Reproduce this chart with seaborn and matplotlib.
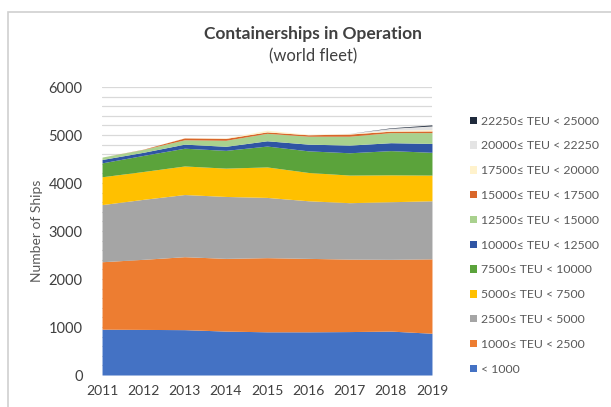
import numpy as np
import matplotlib
matplotlib.use('Agg')
import matplotlib.pyplot as plt
from matplotlib.patches import Rectangle
import seaborn as sns

years = [2011, 2012, 2013, 2014, 2015, 2016, 2017, 2018, 2019]

# number of ships per size class (layer thickness)
teu_lt_1000 = [955, 950, 945, 915, 900, 900, 905, 915, 870]
teu_1000_2500 = [1405, 1460, 1520, 1515, 1545, 1530, 1510, 1495, 1550]
teu_2500_5000 = [1190, 1250, 1295, 1290, 1255, 1200, 1175, 1200, 1210]
teu_5000_7500 = [580, 580, 595, 590, 635, 590, 575, 560, 535]
teu_7500_10000 = [290, 335, 370, 370, 435, 450, 465, 505, 475]
teu_10000_12500 = [70, 65, 85, 85, 110, 140, 160, 165, 185]
teu_12500_15000 = [50, 60, 90, 125, 155, 165, 185, 210, 225]
teu_15000_17500 = [0, 5, 40, 40, 30, 30, 45, 30, 35]
teu_17500_20000 = [0, 0, 5, 10, 35, 10, 10, 20, 30]
teu_20000_22250 = [0, 0, 0, 0, 0, 0, 5, 40, 75]
teu_22250_25000 = [0, 0, 0, 0, 0, 0, 0, 10, 20]

labels = ['< 1000', '1000≤ TEU < 2500', '2500≤ TEU < 5000', '5000≤ TEU < 7500',
          '7500≤ TEU < 10000', '10000≤ TEU < 12500', '12500≤ TEU < 15000',
          '15000≤ TEU < 17500', '17500≤ TEU < 20000', '20000≤ TEU < 22250',
          '22250≤ TEU < 25000']
series = [teu_lt_1000, teu_1000_2500, teu_2500_5000, teu_5000_7500, teu_7500_10000,
          teu_10000_12500, teu_12500_15000, teu_15000_17500, teu_17500_20000,
          teu_20000_22250, teu_22250_25000]
colors = sns.color_palette(['#4472C4', '#ED7D31', '#A5A5A5', '#FFC000', '#5BA33B',
                            '#2F55A4', '#A9D18E', '#D9662A', '#FFF2CC', '#E4E4E4',
                            '#1F2A3C'])

sns.set_theme(style='white')
plt.rcParams['font.family'] = ['Lato', 'DejaVu Sans']

fig = plt.figure(figsize=(6.11, 4.07), dpi=100)
ax = fig.add_axes([0.167, 0.0786, 0.540, 0.7076])

ax.set_yticks(np.arange(0, 6001, 200), minor=True)
ax.grid(True, which='both', axis='y', color='#D9D9D9', linewidth=0.9, zorder=0)
ax.set_axisbelow(True)

ax.stackplot(years, *series, labels=labels, colors=colors, linewidth=0, zorder=2)

ax.set_xlim(2011, 2019)
ax.set_ylim(0, 6000)
ax.set_yticks(np.arange(0, 6001, 1000))
ax.set_xticks(years)
ax.tick_params(axis='y', which='both', length=0, labelsize=10.5, labelcolor='#404040', pad=14)
ax.tick_params(axis='x', length=0, labelsize=10, labelcolor='#404040', pad=7)
for s in ax.spines.values():
    s.set_visible(False)
ax.set_ylabel('Number of Ships', fontsize=10, color='#595959', labelpad=4)

fig.text(0.512, 0.917, 'Containerships in Operation', ha='center', va='center',
         fontsize=12.5, fontweight='bold', color='#404040')
fig.text(0.512, 0.862, '(world fleet)', ha='center', va='center',
         fontsize=12, color='#404040')

handles, labs = ax.get_legend_handles_labels()
leg = fig.legend(handles[::-1], labs[::-1], loc='upper left',
                 bbox_to_anchor=(0.762, 0.728), frameon=False, fontsize=8.8,
                 handlelength=0.55, handleheight=0.55, handletextpad=0.3,
                 labelspacing=1.13, borderaxespad=0)
for t in leg.get_texts():
    t.set_color('#595959')

fig.patches.append(Rectangle((0.013, -0.1), 1.2, 1.0705, transform=fig.transFigure,
                             fill=False, edgecolor='#D0D0D0', linewidth=1.2))

fig.savefig('out.png', dpi=100)
